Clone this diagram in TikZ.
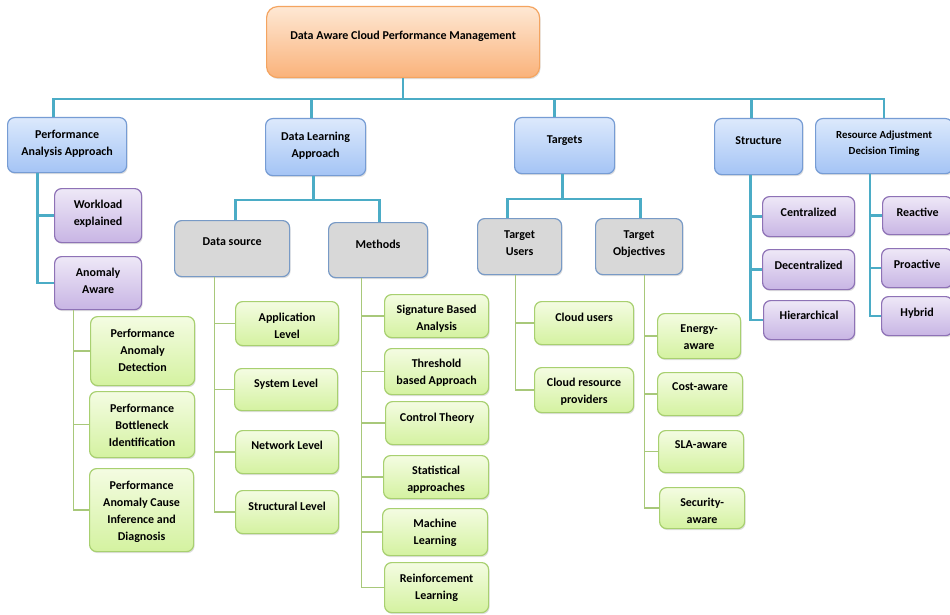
\documentclass[tikz,border=0pt]{standalone}
\usepackage{fontspec}
\setmainfont{Carlito}
\usetikzlibrary{shadows}

\definecolor{rootTop}{RGB}{254,232,212}
\definecolor{rootBot}{RGB}{250,178,122}
\definecolor{rootLine}{RGB}{244,164,96}
\definecolor{blueTop}{RGB}{220,233,252}
\definecolor{blueBot}{RGB}{164,196,245}
\definecolor{blueLine}{RGB}{118,156,212}
\definecolor{purpleTop}{RGB}{238,232,247}
\definecolor{purpleBot}{RGB}{200,181,228}
\definecolor{purpleLine}{RGB}{142,114,182}
\definecolor{grayFill}{RGB}{216,216,216}
\definecolor{grayLine}{RGB}{120,154,198}
\definecolor{greenTop}{RGB}{244,252,226}
\definecolor{greenBot}{RGB}{212,242,160}
\definecolor{greenLine}{RGB}{168,208,112}
\definecolor{busColor}{RGB}{75,172,198}
\definecolor{leafColor}{RGB}{168,200,122}

\tikzset{
  box/.style={rounded corners=7pt, line width=1.2pt,
    drop shadow={shadow xshift=1pt, shadow yshift=-1.5pt, opacity=0.25}},
  rootbox/.style={box, rounded corners=11pt, draw=rootLine, top color=rootTop, bottom color=rootBot},
  bluebox/.style={box, draw=blueLine, top color=blueTop, bottom color=blueBot},
  purplebox/.style={box, draw=purpleLine, top color=purpleTop, bottom color=purpleBot},
  graybox/.style={box, draw=grayLine, fill=grayFill},
  greenbox/.style={box, draw=greenLine, top color=greenTop, bottom color=greenBot},
  boxtext/.style={inner sep=0pt, align=center, font=\bfseries\fontsize{12}{17}\selectfont},
  smalltext/.style={boxtext, font=\bfseries\fontsize{10.8}{16}\selectfont},
  busline/.style={draw=busColor, line width=2.6pt},
  leafline/.style={draw=leafColor, line width=1.6pt},
}

% #1 first line offset, #2 style, #3 name, #4-#7 corners, #8 text
\newcommand\mkbox[8][15]{%
  \node[#2, anchor=north west, minimum width=#6-#4, minimum height=#7-#5] (#3) at (#4,#5) {};
  \node[boxtext, anchor=north] (#3t) at ([yshift=-(#1-3.5)]#3.north) {#8};}

\begin{document}
\begin{tikzpicture}[x=1pt,y=-1pt]
\path[use as bounding box,fill=white] (0,0) rectangle (950,615);

% root and first level
\mkbox[29]{rootbox}{root}{266}{6}{539}{77}{}
\node[boxtext, anchor=north] (roott) at ([yshift=-25]root.north) {Data Aware Cloud Performance Management};
\mkbox[16]{bluebox}{paa}{7}{117}{126}{172}{Performance\\Analysis Approach}
\mkbox[17]{bluebox}{dla}{265}{118}{365}{175}{Data Learning\\Approach}
\mkbox[22]{bluebox}{tgt}{514}{117}{614}{173}{Targets}
\mkbox[22]{bluebox}{str}{714}{118}{802}{174}{Structure}
\mkbox[16]{bluebox}{rad}{815}{118}{952}{173}{}
\node[smalltext, anchor=north] (radt) at ([yshift=-13]rad.north) {Resource Adjustment\\Decision Timing};

% performance analysis approach
\mkbox{purplebox}{we}{54}{188}{141}{242}{Workload\\explained}
\mkbox{purplebox}{aa}{54}{256}{141}{309}{Anomaly\\Aware}
\mkbox[16]{greenbox}{pad}{90}{316}{194}{385}{Performance\\Anomaly\\Detection}
\mkbox[16]{greenbox}{pbi}{89}{391}{194}{457}{Performance\\Bottleneck\\Identification}
\mkbox[16]{greenbox}{pac}{89}{468}{193}{551}{Performance\\Anomaly Cause\\Inference and\\Diagnosis}

% data learning approach
\mkbox[21]{graybox}{ds}{174}{220}{289}{276}{Data source}
\mkbox[21]{graybox}{mt}{328}{222}{427}{277}{Methods}
\mkbox{greenbox}{al}{235}{301}{338}{345}{Application\\Level}
\mkbox[14]{greenbox}{sl}{234}{368}{337}{410}{System Level}
\mkbox[14]{greenbox}{nl}{235}{430}{338}{473}{Network Level}
\mkbox[15]{greenbox}{stl}{235}{490}{338}{533}{Structural Level}
\mkbox[14]{greenbox}{sba}{384}{294}{488}{337}{Signature Based\\Analysis}
\mkbox[14]{greenbox}{tba}{384}{348}{488}{394}{Threshold\\based Approach}
\mkbox{greenbox}{ct}{385}{401}{488}{444}{Control Theory}
\mkbox[14]{greenbox}{sa}{383}{455}{488}{498}{Statistical\\approaches}
\mkbox[14]{greenbox}{ml}{382}{508}{487}{555}{Machine\\Learning}
\mkbox{greenbox}{rl}{384}{562}{488}{612}{Reinforcement\\Learning}

% targets
\mkbox[16]{graybox}{tu}{477}{218}{561}{274}{Target\\Users}
\mkbox[16]{graybox}{tob}{595}{218}{682}{274}{Target\\Objectives}
\mkbox{greenbox}{cu}{534}{301}{633}{344}{Cloud users}
\mkbox[14]{greenbox}{crp}{534}{367}{633}{412}{Cloud resource\\providers}
\mkbox{greenbox}{ea}{657}{313}{740}{358}{Energy-\\aware}
\mkbox[14]{greenbox}{ca}{657}{372}{742}{415}{Cost-aware}
\mkbox[14]{greenbox}{slaa}{658}{430}{743}{472}{SLA-aware}
\mkbox[14]{greenbox}{sea}{659}{487}{744}{528}{Security-\\aware}

% structure and timing
\mkbox{purplebox}{cen}{762}{196}{854}{236}{Centralized}
\mkbox{purplebox}{dec}{762}{249}{854}{289}{Decentralized}
\mkbox[14]{purplebox}{hie}{763}{300}{854}{339}{Hierarchical}
\mkbox{purplebox}{rea}{882}{196}{952}{234}{Reactive}
\mkbox{purplebox}{pro}{881}{248}{952}{287}{Proactive}
\mkbox{purplebox}{hyb}{881}{296}{952}{335}{Hybrid}

% top bus
\draw[busline] (root.south) -- ++(0,22);
\draw[busline] ([xshift=-13.5]paa.north) -- ++(0,-18) -| (rad.north);
\draw[busline] ([xshift=-4]dla.north) -- ++(0,-19);
\draw[busline] ([xshift=-10]tgt.north) -- ++(0,-18);
\draw[busline] ([xshift=-7]str.north) -- ++(0,-19);

% second level buses
\draw[busline] ([xshift=-2]dla.south) -- ++(0,25);
\draw[busline] ([xshift=3.5]ds.north) -- ++(0,-20) -| ([xshift=1.5]mt.north);
\draw[busline] ([xshift=-2]tgt.south) -- ++(0,26);
\draw[busline] ([xshift=-12]tu.north) -- ++(0,-19) -| ([xshift=1.5]tob.north);

% spines
\foreach \n in {we,aa} \draw[busline] ([xshift=-29.5]paa.south) |- (\n.west);
\foreach \n in {cen,dec,hie} \draw[busline] ([xshift=-8]str.south) |- (\n.west);
\foreach \n in {rea,pro,hyb} \draw[busline] ([xshift=-14]rad.south) |- (\n.west);
\foreach \n in {pad,pbi,pac} \draw[leafline] ([xshift=-24.5]aa.south) |- (\n.west);
\foreach \n in {al,sl,nl,stl} \draw[leafline] ([xshift=-17.5]ds.south) |- (\n.west);
\foreach \n in {sba,tba,ct,sa,ml,rl} \draw[leafline] ([xshift=-16.5]mt.south) |- (\n.west);
\foreach \n in {cu,crp} \draw[leafline] ([xshift=-4]tu.south) |- (\n.west);
\foreach \n in {ea,ca,slaa,sea} \draw[leafline] ([xshift=5.5]tob.south) |- (\n.west);
\end{tikzpicture}
\end{document}
